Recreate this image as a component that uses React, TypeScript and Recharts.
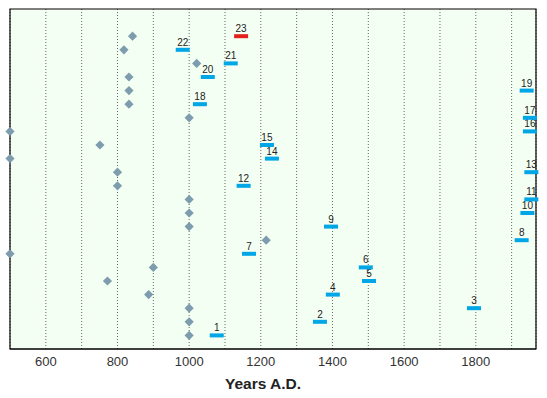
import React from 'react';
import { ScatterChart, Scatter, XAxis, YAxis, CartesianGrid, Label, ReferenceArea } from 'recharts';

// row numbers 1..23 (bottom to top)
const rowIds = [1, 2, 3, 4, 5, 6, 7, 8, 9, 10, 11, 12, 13, 14, 15, 16, 17, 18, 19, 20, 21, 22, 23];
// left diamond year for each row
const diamondYears = [1000, 1000, 1000, 887, 772, 900, 500, 1215, 1000, 1000, 1000, 800, 800, 500, 751, 500, 1000, 832, 832, 832, 1021, 818, 842];
// center year of the short bar for each row
const barYears = [1077, 1365, 1795, 1401, 1502, 1493, 1167, 1928, 1396, 1944, 1955, 1152, 1955, 1231, 1217, 1951, 1951, 1030, 1942, 1052, 1116, 982, 1145];
const highlightRow = 23;

const xDomain = [500, 1968];
const yDomain = [0, 25];
const gridTicks = [600, 700, 800, 900, 1000, 1100, 1200, 1300, 1400, 1500, 1600, 1700, 1800, 1900];
const labelTicks = [600, 800, 1000, 1200, 1400, 1600, 1800];

const diamondData = rowIds.map((r, i) => ({ x: diamondYears[i], y: r }));
const barData = rowIds.map((r, i) => ({ x: barYears[i], y: r, id: r }));

const Diamond = (props: any) => {
  const { cx, cy } = props;
  const s = 4.6;
  return (
    <polygon
      points={`${cx},${cy - s} ${cx + s},${cy} ${cx},${cy + s} ${cx - s},${cy}`}
      fill="#7d9cad"
    />
  );
};

const BarMark = (props: any) => {
  const { cx, cy, payload } = props;
  const color = payload.id === highlightRow ? '#e3211c' : '#00a6e6';
  return (
    <g>
      <rect x={cx - 7} y={cy - 2} width={14} height={4} fill={color} />
      <text x={cx} y={cy - 4} textAnchor="middle" fontSize={10} fill="#222">
        {payload.id}
      </text>
    </g>
  );
};

const App = () => {
  return (
    <div style={{ position: 'absolute', left: 0, top: 0, fontFamily: '"Liberation Sans", Arial, sans-serif' }}>
      <ScatterChart width={547} height={398} margin={{ top: 9, right: 11, bottom: 4, left: 10 }}>
        <CartesianGrid
          horizontal={false}
          stroke="#666"
          strokeDasharray="1 2"
          fill="#f4fff3"
        />
        <XAxis
          type="number"
          dataKey="x"
          domain={xDomain}
          ticks={gridTicks}
          tickFormatter={(v) => (labelTicks.includes(v) ? String(v) : '')}
          tickLine={false}
          axisLine={{ stroke: '#000' }}
          tick={{ fontSize: 13, fill: '#333' }}
          height={45}
          interval={0}
        >
          <Label
            value="Years A.D."
            position="insideBottom"
            offset={5}
            dx={-10}
            style={{ fontSize: 15.5, fontWeight: 'bold', fill: '#222' }}
          />
        </XAxis>
        <YAxis
          type="number"
          dataKey="y"
          domain={yDomain}
          hide
          width={0}
        />
        <ReferenceArea
          x1={xDomain[0]}
          x2={xDomain[1]}
          y1={yDomain[0]}
          y2={yDomain[1]}
          fill="none"
          stroke="#000"
          strokeWidth={1.2}
          ifOverflow="visible"
        />
        <Scatter data={diamondData} shape={<Diamond />} isAnimationActive={false} />
        <Scatter data={barData} shape={<BarMark />} isAnimationActive={false} />
      </ScatterChart>
    </div>
  );
};

export default App;
